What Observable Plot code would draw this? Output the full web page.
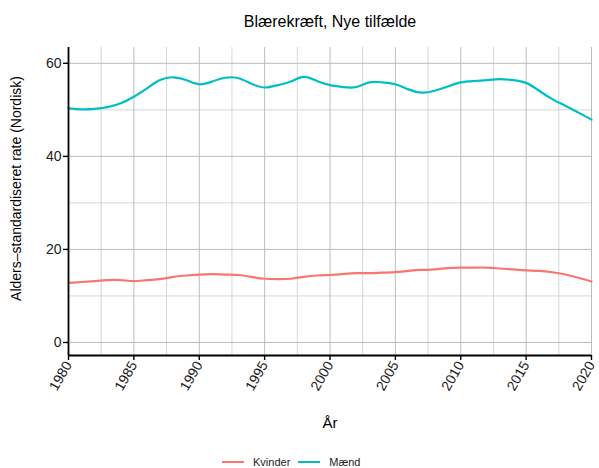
<!DOCTYPE html>
<html>
<head>
<meta charset="utf-8">
<script src="https://cdn.jsdelivr.net/npm/d3@7"></script>
<script src="https://cdn.jsdelivr.net/npm/@observablehq/plot@0.6"></script>
<style>
  html, body { margin: 0; padding: 0; background: #fff; }
  #wrap { position: relative; width: 599px; height: 468px; font-family: "Liberation Sans", Arial, sans-serif; }
  #legend { position: absolute; top: 456px; left: 222px; display: flex; align-items: center; font-size: 11px; color: #1a1a1a; }
  .sw { display: inline-block; width: 22px; height: 0; border-top: 2.5px solid; margin: 0 9px 0 0; }
  .item { display: flex; align-items: center; margin: 0 8px 0 0; }
</style>
</head>
<body>
<div id="wrap">
  <div id="chart"></div>
  <div id="legend"></div>
</div>
<script>
const title = "Blærekræft, Nye tilfælde";
const yLabel = "Alders\u2013standardiseret rate (Nordisk)";
const xLabel = "År";
const seriesNames = ["Kvinder", "Mænd"];
const seriesColors = ["#F8766D", "#00BFC4"];
const years = d3.range(1980, 2021);
const kvinder = [12.8, 13.0, 13.2, 13.4, 13.4, 13.2, 13.4, 13.6, 14.1, 14.4,
  14.6, 14.7, 14.6, 14.5, 14.1, 13.7, 13.6, 13.7, 14.1, 14.4,
  14.5, 14.7, 14.9, 14.9, 15.0, 15.1, 15.4, 15.6, 15.7, 16.0,
  16.1, 16.1, 16.1, 15.9, 15.7, 15.5, 15.4, 15.1, 14.6, 13.9, 13.1];
const maend = [50.3, 50.1, 50.2, 50.6, 51.4, 52.8, 54.6, 56.4, 57.0, 56.4,
  55.5, 56.1, 56.9, 56.8, 55.6, 54.8, 55.3, 56.1, 57.1, 56.2,
  55.3, 54.9, 54.9, 55.9, 55.9, 55.5, 54.4, 53.7, 54.1, 55.0,
  55.9, 56.2, 56.4, 56.6, 56.4, 55.8, 54.1, 52.3, 50.9, 49.4, 47.9];
const xMajor = [1980, 1985, 1990, 1995, 2000, 2005, 2010, 2015, 2020];
const xMinor = [1982.5, 1987.5, 1992.5, 1997.5, 2002.5, 2007.5, 2012.5, 2017.5];
const yMajor = [0, 20, 40, 60];
const yMinor = [10, 30, 50];

const data = [
  ...years.map((y, i) => ({year: y, value: kvinder[i], series: seriesNames[0]})),
  ...years.map((y, i) => ({year: y, value: maend[i], series: seriesNames[1]}))
];

const yDomain = [-2.8, 63.4];

const chart = Plot.plot({
  width: 599,
  height: 468,
  marginTop: 47,
  marginBottom: 113,
  marginLeft: 68,
  marginRight: 8,
  style: {fontFamily: "Liberation Sans, Arial, sans-serif", fontSize: "14px", color: "#1a1a1a", background: "#fff"},
  x: {domain: [1980, 2020]},
  y: {domain: yDomain},
  color: {domain: seriesNames, range: seriesColors},
  marks: [
    Plot.ruleX(xMinor, {stroke: "#d6d6d6", strokeWidth: 1, strokeOpacity: 1}),
    Plot.ruleY(yMinor, {stroke: "#d6d6d6", strokeWidth: 1, strokeOpacity: 1}),
    Plot.ruleX(xMajor, {stroke: "#bdbdbd", strokeWidth: 1, strokeOpacity: 1}),
    Plot.ruleY(yMajor, {stroke: "#bdbdbd", strokeWidth: 1, strokeOpacity: 1}),
    Plot.lineY(data, {x: "year", y: "value", stroke: "series", z: "series", strokeWidth: 2.2, curve: "natural"}),
    Plot.axisY({ticks: yMajor, tickSize: 5, tickPadding: 2, label: null, fontSize: 14, stroke: "#000", strokeWidth: 1.4}),
    Plot.axisX({ticks: xMajor, tickFormat: d => String(d), tickRotate: -60, tickSize: 5, tickPadding: 2, label: null, fontSize: 14, stroke: "#000", strokeWidth: 1.4}),
    Plot.ruleX([1980], {stroke: "#000", strokeWidth: 1.8}),
    Plot.ruleY([yDomain[0]], {stroke: "#000", strokeWidth: 1.8}),
    Plot.text([title], {frameAnchor: "top", dy: -32, fontSize: 16, fill: "#000"}),
    Plot.text([yLabel], {frameAnchor: "left", textAnchor: "middle", dx: -52, dy: -13, rotate: -90, fontSize: 14, fill: "#000"}),
    Plot.text([xLabel], {frameAnchor: "bottom", dy: 72, fontSize: 15, fill: "#000"})
  ]
});
document.getElementById("chart").appendChild(chart);

const legend = document.getElementById("legend");
seriesNames.forEach((n, i) => {
  const it = document.createElement("span");
  it.className = "item";
  const sw = document.createElement("span");
  sw.className = "sw";
  sw.style.borderTopColor = seriesColors[i];
  it.appendChild(sw);
  const t = document.createElement("span");
  t.textContent = n;
  it.appendChild(t);
  legend.appendChild(it);
});
</script>
</body>
</html>
